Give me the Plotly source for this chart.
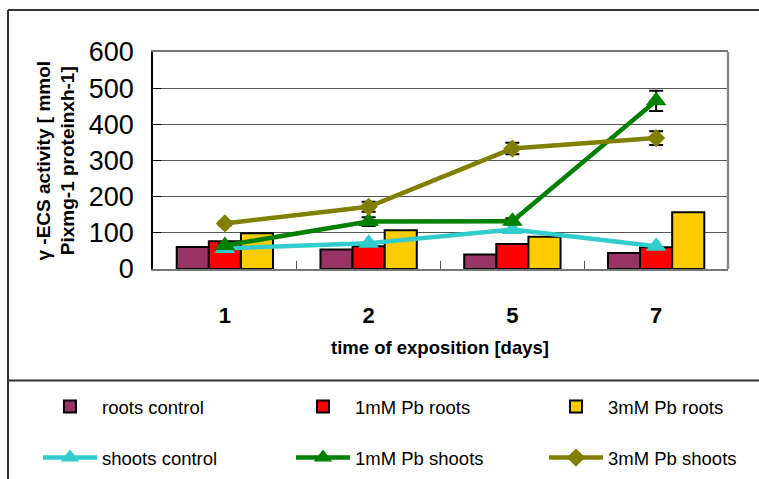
import plotly.graph_objects as go

# ---------------- data ----------------
days = ["1", "2", "5", "7"]
roots_control = [61, 54, 40, 44]
roots_1mM = [77, 63, 69, 60]
roots_3mM = [99, 107, 89, 157]
shoots_control = [57, 71, 109, 63]
shoots_1mM = [65, 131, 132, 465]
shoots_1mM_err = [5, 12, 8, 28]
shoots_3mM = [126, 172, 333, 362]
shoots_3mM_err = [5, 14, 16, 19]
y_ticks = [0, 100, 200, 300, 400, 500, 600]

# ---------------- geometry helpers ----------------
W, H = 759, 479
L, R, T, B = 153, 31, 52, 210
PW, PH = W - L - R, H - T - B


def px(X):
    return (X - L) / PW


def py(Y):
    return (H - B - Y) / PH


FONT = "Arial, Liberation Sans, sans-serif"

fig = go.Figure()

bar_specs = [
    ("roots control", roots_control, "#993366", 184),
    ("1mM Pb roots", roots_1mM, "#FF0000", 184),
    ("3mM Pb roots", roots_3mM, "#FFCC00", 140),
]
for name, vals, col, lw in bar_specs:
    fig.add_trace(go.Bar(
        x=days, y=vals, name=name,
        marker=dict(color=col, line=dict(color="black", width=2)),
        legend="legend", legendwidth=lw,
    ))

line_specs = [
    ("shoots control", shoots_control, None, "#33CCCC", "triangle-up", 18, 184),
    ("1mM Pb shoots", shoots_1mM, shoots_1mM_err, "#008000", "triangle-up", 18, 184),
    ("3mM Pb shoots", shoots_3mM, shoots_3mM_err, "#808000", "diamond", 14, 140),
]
for name, vals, err, col, sym, sz, lw in line_specs:
    kw = {}
    if err is not None:
        kw["error_y"] = dict(type="data", array=err, visible=True,
                             color="black", thickness=2, width=7)
    fig.add_trace(go.Scatter(
        x=days, y=vals, name=name, mode="lines+markers",
        line=dict(color=col, width=4.5),
        marker=dict(symbol=sym, size=sz, color=col),
        legend="legend2", legendwidth=lw, **kw,
    ))

fig.update_layout(
    width=W, height=H,
    margin=dict(l=L, r=R, t=T, b=B, autoexpand=False),
    paper_bgcolor="white", plot_bgcolor="white",
    font=dict(family=FONT, color="black"),
    barmode="group", bargap=0.33, bargroupgap=0,
    legend=dict(
        orientation="h", x=px(38), xanchor="left", y=py(407), yanchor="middle",
        itemwidth=54, entrywidthmode="pixels", entrywidth=184,
        font=dict(size=18.5, family=FONT), bgcolor="rgba(0,0,0,0)",
        traceorder="normal",
    ),
    legend2=dict(
        orientation="h", x=px(38), xanchor="left", y=py(458), yanchor="middle",
        itemwidth=54, entrywidthmode="pixels", entrywidth=184,
        font=dict(size=18.5, family=FONT), bgcolor="rgba(0,0,0,0)",
        traceorder="normal",
    ),
    showlegend=True,
)

fig.update_xaxes(
    type="category", categoryorder="array", categoryarray=days,
    showline=True, linecolor="#777", linewidth=2, mirror=True,
    ticks="inside", tickson="boundaries", ticklen=8, tickcolor="#555", tickwidth=1,
    tickfont=dict(size=22, family=FONT, weight="bold"),
    ticklabelstandoff=26,
    showgrid=False, zeroline=False,
)
fig.update_yaxes(
    range=[0, 600], tickvals=y_ticks,
    showline=True, linecolor="black", linewidth=1.5,
    ticks="inside", ticklen=8, tickcolor="black",
    tickfont=dict(size=27, family=FONT),
    ticklabelstandoff=12,
    showgrid=True, gridcolor="#555", gridwidth=1, zeroline=False,
)

# right border of plot area
fig.add_shape(type="line", xref="paper", yref="paper", x0=1, x1=1, y0=0, y1=1,
              line=dict(color="#888", width=2.5))

# outer frame of chart and legend boxes
frame = dict(color="#333", width=2)
fig.add_shape(type="line", xref="paper", yref="paper",
              x0=px(8), x1=px(770), y0=py(10), y1=py(10), line=frame)
fig.add_shape(type="line", xref="paper", yref="paper",
              x0=px(8), x1=px(8), y0=py(10), y1=py(490), line=frame)
fig.add_shape(type="line", xref="paper", yref="paper",
              x0=px(8), x1=px(770), y0=py(380.5), y1=py(380.5), line=frame)

# axis titles
fig.add_annotation(
    text="<b>time of exposition [days]</b>", xref="paper", yref="paper",
    x=px(440), y=py(348), showarrow=False, xanchor="center", yanchor="middle",
    font=dict(size=18.5, family=FONT),
)
fig.add_annotation(
    text="<b>γ -ECS activity [ mmol<br>Pixmg-1 proteinxh-1]</b>",
    xref="paper", yref="paper", x=px(55), y=0.5, textangle=-90,
    showarrow=False, xanchor="center", yanchor="middle",
    font=dict(size=19, family=FONT),
)

fig.write_html(
    "out.html",
    config={"displayModeBar": False},
    post_script="document.body.style.margin='0';document.body.style.overflow='hidden';",
)
